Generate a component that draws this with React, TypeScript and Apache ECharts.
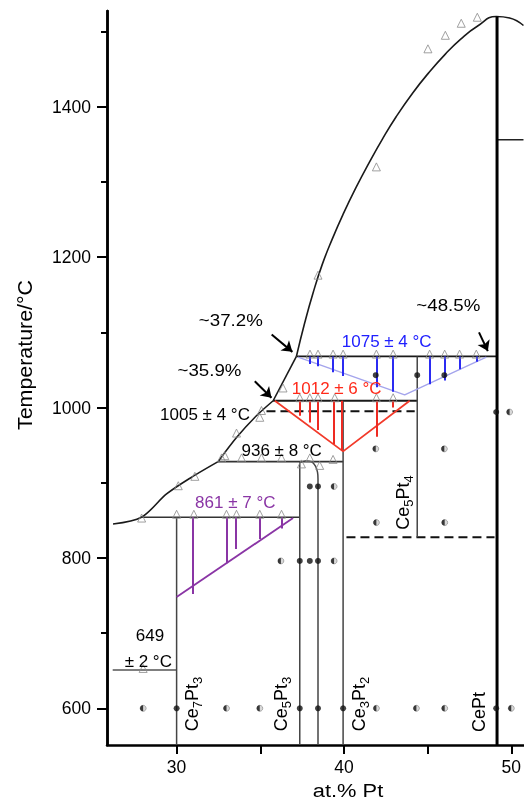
import React, { useEffect, useRef } from 'react';
import * as echarts from 'echarts';

// ---- axis ticks ----
const xTicksMajor = [30, 40, 50];
const xTicksAll = [30, 35, 40, 45, 50];
const yTicksMajor = [600, 800, 1000, 1200, 1400];
const yTicksMinor = [700, 900, 1100, 1300, 1500];

// ---- liquidus (at.% Pt, °C) ----
const liquidusLow = [[26.2, 845], [27.9, 854], [29.4, 885], [30.8, 906], [32.48, 928]];
const liquidusMid = [[32.48, 928], [33.58, 960], [34.77, 989], [35.77, 1009]];
const liquidusStep = [[35.77, 1009], [37.16, 1068]];
const liquidusTop = [
  [37.16, 1068], [37.66, 1113], [38.15, 1152], [38.7, 1190], [39.3, 1224], [39.95, 1257],
  [40.71, 1292], [41.54, 1327], [42.3, 1357], [43.13, 1387], [44.1, 1418], [45.06, 1445],
  [46.06, 1470], [46.98, 1490], [47.97, 1507], [49.11, 1520], [49.9, 1518], [50.73, 1508],
];

// ---- invariant lines ----
const tie1075 = [[37.16, 1068], [49.15, 1068]];
const tie1012 = [[35.77, 1009], [44.38, 1009]];
const tie936 = [[32.48, 928], [39.95, 928]];
const tie861 = [[27.9, 854], [37.36, 854]];
const tie649 = [[26.18, 651], [30, 651]];
const dashed1005 = [[35.37, 995], [44.23, 995]];
const dashed827 = [[40.15, 827.6], [49.0, 827.6]];
const upperRight = [[49.15, 1356], [50.73, 1356]];

// ---- compounds ----
const cePtLine = [[49.15, 1520], [49.15, 551.2]];
const ce7pt3Line = [[30, 854], [30, 551.2]];
const ce5pt3LineA = [[37.36, 928], [37.36, 551.2]];
const ce5pt3LineB = [[37.36, 927], [37.7, 929], [38.05, 928], [38.3, 922], [38.42, 914], [38.45, 905], [38.45, 551.2]];
const ce3pt2Line = [[39.95, 1009], [39.95, 551.2]];
const ce5pt4Line = [[44.38, 1068], [44.38, 827.6]];

// ---- Tammann triangles ----
const blueV = [[37.26, 1067], [43.63, 1016.7], [48.51, 1067]];
const redV = [[35.87, 1009], [39.95, 941.7], [43.93, 1009]];
const purpleV = [[30, 748], [36.96, 853]];
const blueTop = 1068;
const blueX = [37.97, 38.45, 39.35, 39.95, 41.94, 42.94, 45.12, 46.02, 46.91, 47.91];
const blueBottom = [1058, 1055, 1047, 1042, 1027, 1021, 1031, 1036, 1051, 1061];
const redTop = 1009;
const redX = [37.36, 37.96, 38.45, 39.42, 39.88, 41.94, 42.94];
const redBottom = [989, 980, 970, 951, 943, 961, 1000];
const purpleTop = 854;
const purpleX = [30.99, 32.98, 33.56, 34.97, 36.27];
const purpleBottom = [752, 793, 812, 825, 839];

// ---- arrows ----
const arrow372 = [[35.68, 1097], [36.92, 1074]];
const arrow359 = [[34.67, 1035], [35.67, 1013]];
const arrow485 = [[48.07, 1100], [48.6, 1075]];

// ---- DTA points (triangles) ----
const dtaPoints = [
  [27.91, 853], [30.1, 896], [31.09, 908.5],
  [30.0, 858], [31.03, 858], [32.98, 858], [33.58, 858], [34.97, 858], [36.27, 858],
  [32.88, 936], [32.69, 933], [33.88, 933], [35.07, 933], [36.27, 933], [37.46, 925], [37.96, 933], [38.55, 923], [39.35, 931],
  [33.58, 966], [34.97, 987], [36.36, 1026], [35.07, 996],
  [37.36, 1013], [37.96, 1013], [38.45, 1013], [39.45, 1013], [41.94, 1013], [42.94, 1013],
  [37.97, 1071], [38.45, 1071], [39.35, 1071], [39.95, 1071], [41.94, 1071], [42.94, 1071], [45.12, 1071], [46.02, 1071], [46.91, 1071], [47.91, 1071],
  [38.45, 1176], [41.94, 1320], [45.02, 1477], [46.06, 1495], [47.01, 1511], [47.97, 1519],
  [28.0, 653],
];

// ---- annealed samples ----
const singlePhase = [
  [30, 600], [37.36, 600], [38.45, 600], [39.95, 600], [49.1, 600],
  [37.36, 796], [37.96, 796], [38.45, 796],
  [37.96, 895], [38.45, 895],
  [41.9, 1043], [44.38, 1043], [46.0, 1043],
  [49.1, 994],
];
const twoPhase = [
  [28.0, 600], [32.98, 600], [34.97, 600], [41.94, 600], [44.33, 600], [46.02, 600], [50.0, 600],
  [36.23, 796], [39.41, 796],
  [39.41, 895],
  [41.94, 847], [46.02, 847],
  [41.9, 945], [46.0, 945],
  [49.9, 994],
];

const FONT = 'Arial, "Liberation Sans", Helvetica, sans-serif';

export default function App() {
  const ref = useRef<HTMLDivElement>(null);
  useEffect(() => {
    if (!ref.current) return;
    const chart = echarts.init(ref.current, null, { renderer: 'svg' });
    const X0 = 25.84, X1 = 50.73, Y0 = 551.2, Y1 = 1527.3;

    const line = (data: number[][], color = '#1a1a1a', width = 1.6, extra: any = {}) => ({
      type: 'line', data, showSymbol: false, symbol: 'none', silent: true, z: 2,
      lineStyle: { color, width, ...(extra.lineStyle || {}) },
      smooth: extra.smooth || false,
    });
    const segs = (xs: number[], top: number, bottoms: number[], color: string, width = 2) => ({
      type: 'lines', coordinateSystem: 'cartesian2d', polyline: false, silent: true, z: 3,
      data: xs.map((x, i) => ({ coords: [[x, top], [x, bottoms[i]]] })),
      lineStyle: { color, width, opacity: 1 },
    });

    const txt = (text: string, x: number, y: number, fill = '#000', fontSize = 17, scaleX = 1) => ({
      type: 'text', x, y, scaleX, z: 100,
      style: { text, fill, fontSize, fontFamily: FONT, align: 'center', verticalAlign: 'middle', textAlign: 'center', textVerticalAlign: 'middle' },
    });
    const richM = { fontSize: 18, lineHeight: 18, verticalAlign: 'top', fontFamily: FONT, fill: '#000', color: '#000' };
    const richS = { fontSize: 13, lineHeight: 13, verticalAlign: 'top', padding: [8, 0, 0, 0], fontFamily: FONT, fill: '#000', color: '#000' };
    const vtxt = (parts: [string, string][], x: number, y: number) => ({
      type: 'text', x, y, rotation: Math.PI / 2, z: 100,
      style: {
        text: parts.map(([k, v]) => `{${k}|${v}}`).join(''),
        rich: { m: richM, s: richS },
        fill: '#000', fontSize: 18, fontFamily: FONT,
        align: 'center', verticalAlign: 'middle', textAlign: 'center', textVerticalAlign: 'middle',
      },
    });

    const option: any = {
      animation: false,
      grid: { left: 107, right: 0, top: 11, bottom: 61 },
      xAxis: {
        type: 'value', min: X0, max: X1,
        axisLine: { show: true, onZero: false, lineStyle: { color: '#000', width: 2.5 } },
        axisTick: { show: true, inside: false, length: 9, lineStyle: { color: '#000', width: 2 }, customValues: xTicksAll },
        axisLabel: { customValues: xTicksMajor, fontSize: 17.5, color: '#000', margin: 13, fontFamily: FONT, formatter: (v: number) => String(v) },
        splitLine: { show: false },
      },
      yAxis: [
        {
          type: 'value', min: Y0, max: Y1, position: 'left',
          axisLine: { show: true, onZero: false, lineStyle: { color: '#000', width: 2.5 } },
          axisTick: { show: true, inside: false, length: 10, lineStyle: { color: '#000', width: 2 }, customValues: yTicksMajor },
          axisLabel: { customValues: yTicksMajor, fontSize: 17.5, color: '#000', margin: 16, fontFamily: FONT, formatter: (v: number) => String(v) },
          splitLine: { show: false },
        },
        {
          type: 'value', min: Y0, max: Y1, position: 'left', offset: 0,
          axisLine: { show: true, onZero: false, lineStyle: { color: '#000', width: 2.5 } },
          axisTick: { show: true, inside: false, length: 6, lineStyle: { color: '#000', width: 2 }, customValues: yTicksMinor },
          axisLabel: { show: false },
          splitLine: { show: false },
        },
      ],
      series: [
        line(liquidusLow, '#1a1a1a', 1.6, { smooth: 0.3 }),
        line(liquidusMid, '#1a1a1a', 1.6, { smooth: 0.3 }),
        line(liquidusStep, '#1a1a1a', 1.6),
        line(liquidusTop, '#1a1a1a', 1.6, { smooth: 0.5 }),
        line(tie1075, '#1a1a1a', 1.8),
        line(tie1012, '#1a1a1a', 1.8),
        line(tie936, '#333', 1.6),
        line(tie861, '#333', 1.6),
        line(tie649, '#555', 1.4),
        line(dashed1005, '#111', 2, { lineStyle: { type: [9, 5] } }),
        line(dashed827, '#111', 2, { lineStyle: { type: [9, 5] } }),
        line(upperRight, '#222', 1.4),
        line(cePtLine, '#000', 3),
        line(ce7pt3Line, '#444', 1.5),
        line(ce5pt3LineA, '#444', 1.5),
        line(ce5pt3LineB, '#444', 1.5, { smooth: 0.3 }),
        line(ce3pt2Line, '#444', 1.5),
        line(ce5pt4Line, '#444', 1.5),
        line(blueV, '#a4a4ec', 1.4),
        line(redV, '#f23a2a', 1.8),
        line(purpleV, '#8a35a5', 1.8),
        segs(blueX, blueTop, blueBottom, '#2b2bf2', 2),
        segs(redX, redTop, redBottom, '#ee2a22', 2),
        segs(purpleX, purpleTop, purpleBottom, '#8a35a5', 2),
        {
          type: 'lines', coordinateSystem: 'cartesian2d', silent: true, z: 4,
          data: [arrow372, arrow359, arrow485].map((c) => ({ coords: c })),
          symbol: ['none', 'arrow'], symbolSize: 10,
          lineStyle: { color: '#000', width: 2, opacity: 1 },
        },
        {
          type: 'scatter', data: dtaPoints, symbol: 'triangle', symbolSize: 8, silent: true, z: 5,
          itemStyle: { color: 'rgba(255,255,255,0)', borderColor: '#8a8a8a', borderWidth: 1 },
        },
        {
          type: 'scatter', data: twoPhase, symbol: 'circle', symbolSize: 6, silent: true, z: 6,
          itemStyle: { color: '#d0d0d0', borderColor: '#666', borderWidth: 0.6 },
        },
        {
          type: 'scatter', data: twoPhase, symbol: 'path://M10,0 A10,10 0 0 0 10,20 Z', symbolSize: [3, 6], symbolOffset: [-1.5, 0], silent: true, z: 7,
          itemStyle: { color: '#111' },
        },
        {
          type: 'scatter', data: singlePhase, symbol: 'circle', symbolSize: 6, silent: true, z: 7,
          itemStyle: { color: '#111' },
        },
      ],
      graphic: {
        elements: [
          txt('1075 ± 4 °C', 386.7, 341, '#2020ff'),
          txt('1012 ± 6 °C', 336.7, 388.3, '#ff2a1a'),
          txt('1005 ± 4 °C', 205, 414),
          txt('936 ± 8 °C', 281.7, 450),
          txt('861 ± 7 °C', 235.3, 502.7, '#8a35a5'),
          txt('649', 150, 635),
          txt('± 2 °C', 148.3, 661),
          txt('~37.2%', 230.8, 320, '#000', 17, 1.1),
          txt('~35.9%', 209.5, 370, '#000', 17, 1.1),
          txt('~48.5%', 448.3, 305, '#000', 17, 1.1),
          vtxt([['m', 'Ce'], ['s', '7'], ['m', 'Pt'], ['s', '3']], 192, 704),
          vtxt([['m', 'Ce'], ['s', '5'], ['m', 'Pt'], ['s', '3']], 281, 704),
          vtxt([['m', 'Ce'], ['s', '3'], ['m', 'Pt'], ['s', '2']], 359, 704),
          vtxt([['m', 'CePt']], 479, 712),
          vtxt([['m', 'Ce'], ['s', '5'], ['m', 'Pt'], ['s', '4']], 402.5, 502.5),
          txt('at.% Pt', 348, 790, '#000', 19, 1.15),
          { ...txt('Temperature/°C', 25, 355, '#000', 20, 1.07), rotation: Math.PI / 2 },
        ],
      },
    };
    chart.setOption(option);
    return () => chart.dispose();
  }, []);
  return <div ref={ref} style={{ position: 'fixed', left: 0, top: 0, width: 524, height: 806 }} />;
}
